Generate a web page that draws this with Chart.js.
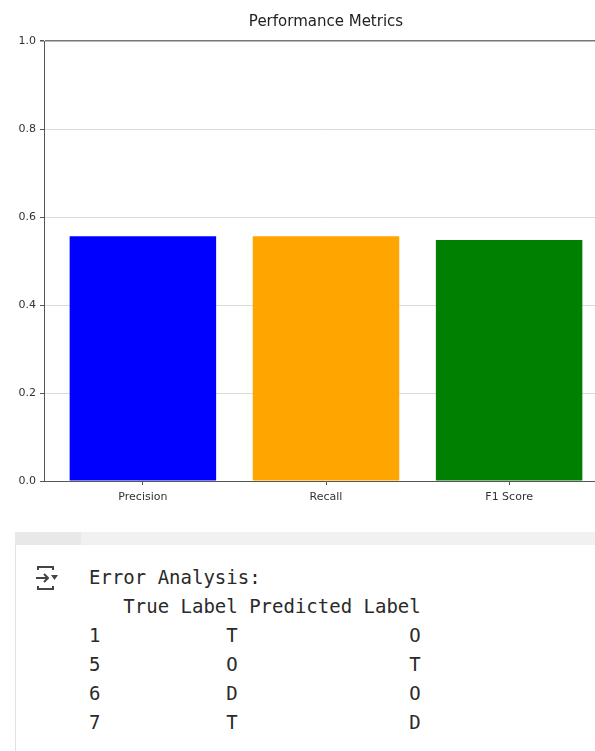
<!DOCTYPE html>
<html>
<head>
<meta charset="utf-8">
<script src="https://cdn.jsdelivr.net/npm/chart.js@4/dist/chart.umd.min.js"></script>
<style>
  html, body { margin: 0; padding: 0; background: #fff; overflow: hidden; width: 595px; height: 751px; }
  #chart-wrap { position: absolute; left: 0; top: 0; }
  .cell-bar { position: absolute; left: 15px; top: 532px; width: 580px; height: 13px; background: #f1f1f1; }
  .cell-bar .gutter { position: absolute; left: 0; top: 0; width: 66px; height: 13px; background: #e8e8e8; }
  .cell-border { position: absolute; left: 15px; top: 545px; width: 1px; height: 206px; background: #e2e2e2; }
  .out-icon { position: absolute; left: 34px; top: 564px; }
  pre#out {
    position: absolute; left: 89px; top: 563px; margin: 0;
    font-family: "DejaVu Sans Mono", monospace; font-size: 19px; line-height: 29px; color: #2a2a2a;
  }
</style>
</head>
<body>
<div id="chart-wrap"><canvas id="chart-bars" width="608" height="520"></canvas></div>

<div class="cell-bar"><div class="gutter"></div></div>
<div class="cell-border"></div>
<svg class="out-icon" width="26" height="28" viewBox="0 0 26 28">
  <g fill="none" stroke="#444" stroke-width="2">
    <path d="M4 6 V3 H19 V6"/>
    <path d="M4 22 V25 H19 V22"/>
    <path d="M2 14 H14"/>
    <path d="M10 10 L14 14 L10 18"/>
  </g>
  <path d="M17 11 H24 L20.5 16 Z" fill="#444"/>
</svg>
<pre id="out"></pre>

<script>
// bar chart data
const categories = ['Precision', 'Recall', 'F1 Score'];
const scores = [0.556, 0.556, 0.548];
const barColors = ['#0000ff', '#ffa500', '#008000'];
const yTicks = [0.0, 0.2, 0.4, 0.6, 0.8, 1.0];

// error analysis table
const errorIndex = [1, 5, 6, 7];
const trueLabels = ['T', 'O', 'D', 'T'];
const predLabels = ['O', 'T', 'O', 'D'];

const titleText = 'Performance Metrics';

// title centred over the plot area, like matplotlib
const axesTitle = {
  id: 'axesTitle',
  afterDraw(chart) {
    const { ctx, chartArea } = chart;
    ctx.save();
    ctx.font = '15px "DejaVu Sans"';
    ctx.fillStyle = '#222';
    ctx.textAlign = 'center';
    ctx.textBaseline = 'middle';
    ctx.fillText(titleText, (chartArea.left + chartArea.right) / 2, 22);
    ctx.restore();
  }
};

const ctx = document.getElementById('chart-bars').getContext('2d');
new Chart(ctx, {
  type: 'bar',
  data: {
    datasets: [{
      data: scores.map((v, i) => ({ x: i, y: v })),
      backgroundColor: barColors,
      borderWidth: 0,
      barPercentage: 1.0,
      categoryPercentage: 0.8
    }]
  },
  options: {
    responsive: false,
    animation: false,
    devicePixelRatio: 1,
    layout: { padding: { top: 41, left: 0, right: 0, bottom: 0 } },
    plugins: {
      legend: { display: false },
      title: { display: false },
      tooltip: { enabled: false }
    },
    scales: {
      x: {
        type: 'linear',
        min: -0.54,
        max: 2.54,
        offset: false,
        afterBuildTicks: (scale) => { scale.ticks = categories.map((c, i) => ({ value: i })); },
        afterFit: (scale) => { scale.height = 39; },
        ticks: {
          callback: (v) => categories[v],
          font: { family: 'DejaVu Sans', size: 11 },
          color: '#333',
          padding: 6,
          maxRotation: 0,
          autoSkip: false
        },
        grid: { offset: false, drawOnChartArea: false, drawTicks: true, tickLength: 4, tickColor: '#555' },
        border: { color: '#555', width: 1 }
      },
      y: {
        min: 0,
        max: 1,
        z: 1,
        afterBuildTicks: (scale) => { scale.ticks = yTicks.map(v => ({ value: v })); },
        afterFit: (scale) => { scale.width = 44; },
        ticks: {
          callback: (v) => v.toFixed(1),
          font: { family: 'DejaVu Sans', size: 11 },
          color: '#333',
          padding: 4
        },
        grid: {
          color: (c) => (c.tick && c.tick.value === 1) ? '#777' : 'rgba(170,170,170,0.45)',
          lineWidth: (c) => (c.tick && c.tick.value === 1) ? 1.5 : 1,
          tickLength: 4,
          tickColor: '#555'
        },
        border: { color: '#555', width: 1 }
      }
    }
  },
  plugins: [axesTitle]
});

// pandas-style printout of the misclassified rows
const colTrue = 'True Label';
const colPred = 'Predicted Label';
const idxWidth = Math.max(...errorIndex.map(i => String(i).length));
let lines = ['Error Analysis:'];
lines.push(' '.repeat(idxWidth) + '  ' + colTrue + ' ' + colPred);
errorIndex.forEach((idx, i) => {
  lines.push(String(idx).padEnd(idxWidth) + '  ' + trueLabels[i].padStart(colTrue.length) + ' ' + predLabels[i].padStart(colPred.length));
});
document.getElementById('out').textContent = lines.join('\n');
</script>
</body>
</html>
